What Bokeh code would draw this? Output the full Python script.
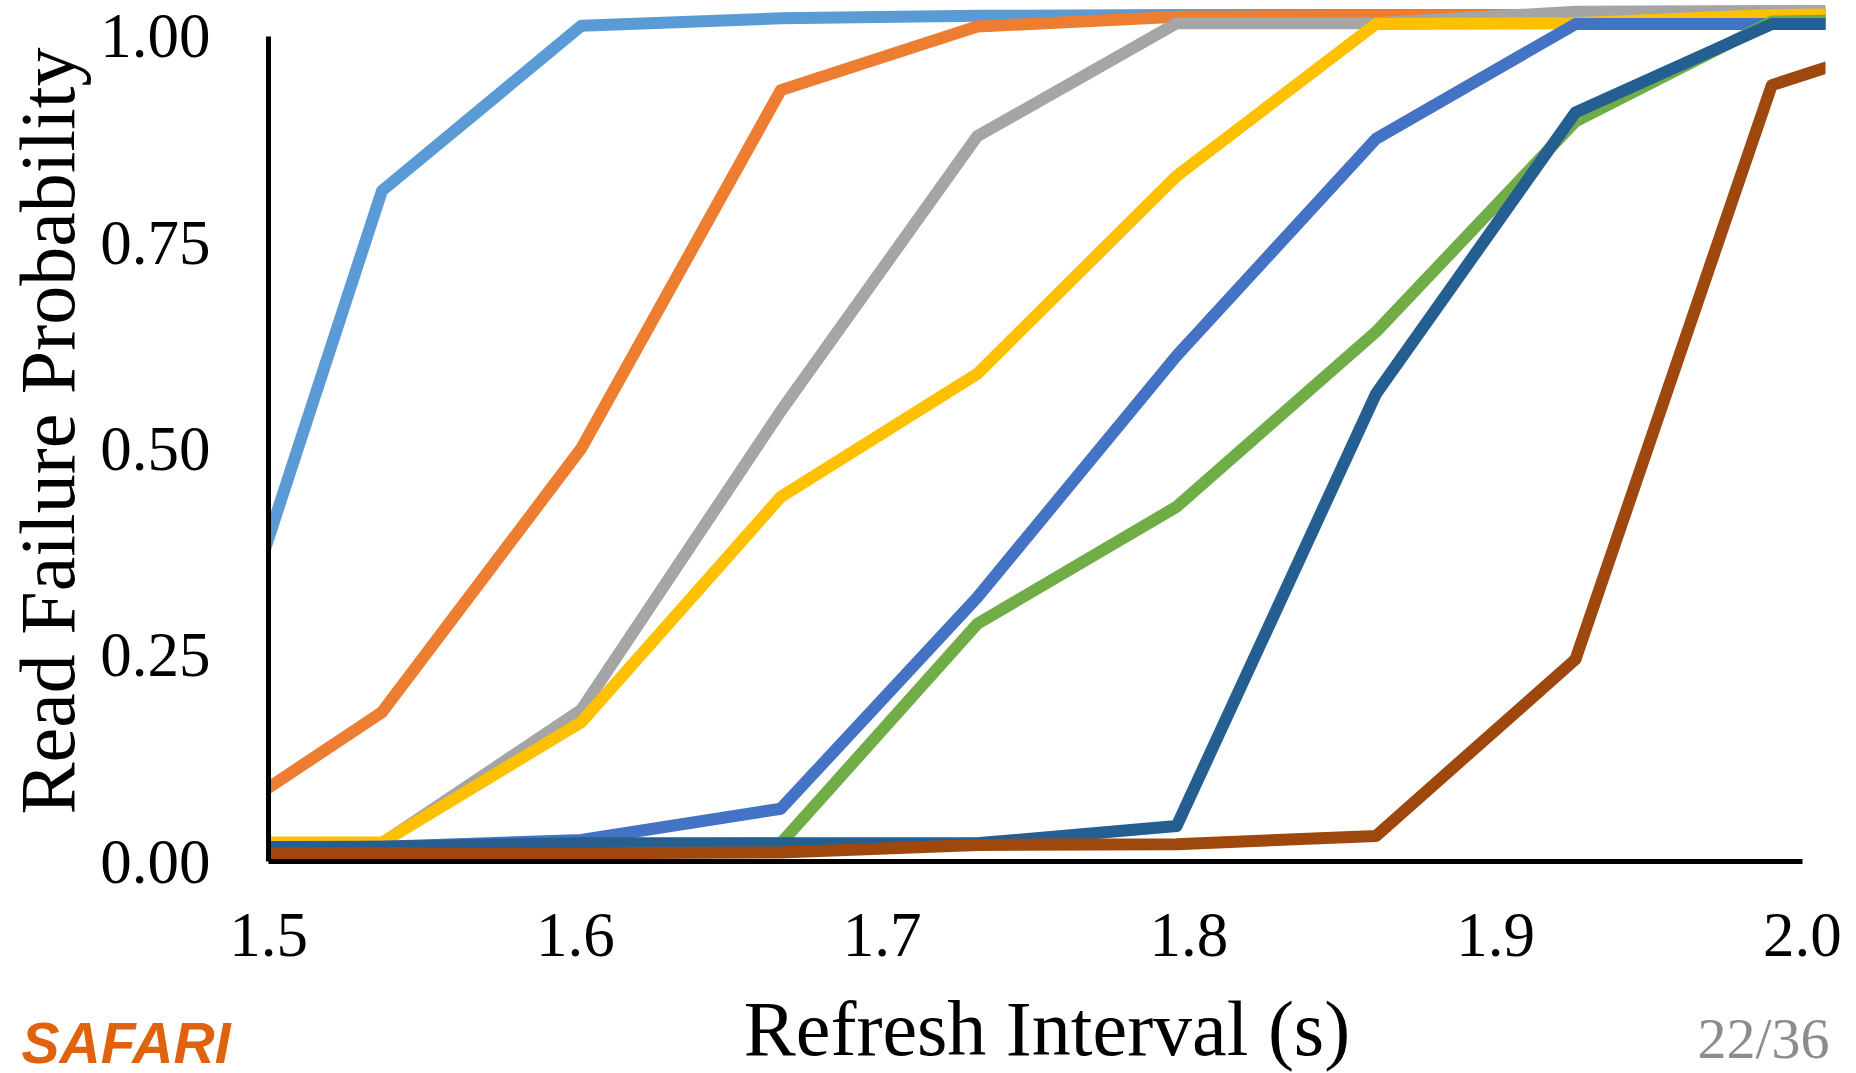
from bokeh.plotting import figure
from bokeh.models import Range1d, FixedTicker, Label, GridBox
from bokeh.embed import file_html
from bokeh.resources import INLINE

# Refresh interval (s) of each measured point
refresh_interval = [1.472, 1.537, 1.602, 1.667, 1.731, 1.796, 1.861, 1.926, 1.990, 2.055]

# Read failure probability for each series
s1 = [0.073, 0.813, 1.013, 1.022, 1.025, 1.026, 1.026, 1.026, 1.026, 1.026]
s2 = [0.020, 0.181, 0.501, 0.935, 1.012, 1.024, 1.025, 1.026, 1.026, 1.026]
s3 = [0.020, 0.022, 0.184, 0.546, 0.879, 1.016, 1.016, 1.030, 1.031, 1.031]
s4 = [0.023, 0.023, 0.169, 0.442, 0.591, 0.831, 1.015, 1.016, 1.026, 1.028]
s5 = [0.015, 0.018, 0.026, 0.064, 0.320, 0.613, 0.876, 1.015, 1.015, 1.015]
s6 = [0.012, 0.015, 0.020, 0.022, 0.288, 0.430, 0.642, 0.897, 1.018, 1.022]
s7 = [0.017, 0.018, 0.022, 0.022, 0.022, 0.043, 0.567, 0.908, 1.015, 1.015]
s8 = [0.010, 0.010, 0.010, 0.011, 0.020, 0.021, 0.031, 0.245, 0.941, 1.019]

series = [s1, s2, s3, s4, s5, s6, s7, s8]
colors = ["#5B9BD5", "#ED7D31", "#A5A5A5", "#FFC000",
          "#4472C4", "#70AD47", "#255E91", "#9E480E"]

x_ticks = [1.5, 1.6, 1.7, 1.8, 1.9, 2.0]
x_tick_labels = ["1.5", "1.6", "1.7", "1.8", "1.9", "2.0"]
y_ticks = [0.0, 0.25, 0.5, 0.75, 1.0]
y_tick_labels = ["0.00", "0.25", "0.50", "0.75", "1.00"]

x_title = "Refresh Interval (s)"
y_title = "Read Failure Probability"
footer_left = "SAFARI"
footer_right = "22/36"

SERIF = "Liberation Serif"
W, H = 1856, 1073

p = figure(frame_width=1557, frame_height=861,
           x_range=Range1d(1.5, 2.0075), y_range=Range1d(0.0, 1.0436),
           output_backend="svg", toolbar_location=None,
           min_border_left=268, min_border_right=31,
           min_border_top=0, min_border_bottom=212)
p.outline_line_color = None
p.background_fill_color = "white"
p.border_fill_color = "white"
p.xgrid.visible = False
p.ygrid.visible = False

for ys, c in zip(series, colors):
    p.line(refresh_interval, ys, line_color=c, line_width=12, line_join="round")

# axes
xa = p.xaxis[0]
xa.ticker = FixedTicker(ticks=x_ticks)
xa.major_label_overrides = dict(zip(x_ticks, x_tick_labels))
xa.bounds = (x_ticks[0], x_ticks[-1])
ya = p.yaxis[0]
ya.ticker = FixedTicker(ticks=y_ticks)
ya.major_label_overrides = dict(zip(y_ticks, y_tick_labels))
ya.bounds = (y_ticks[0], y_ticks[-1])

for ax in (xa, ya):
    ax.axis_line_color = "black"
    ax.axis_line_width = 5
    ax.major_tick_line_color = None
    ax.minor_tick_line_color = None
    ax.major_tick_out = 0
    ax.major_tick_in = 0
    ax.major_label_text_font = SERIF
    ax.major_label_text_font_size = "63px"
    ax.major_label_text_color = "black"
    ax.axis_label_text_font = SERIF
    ax.axis_label_text_font_size = "78px"
    ax.axis_label_text_font_style = "normal"
    ax.axis_label_text_color = "black"

xa.axis_label = x_title
ya.axis_label = y_title
xa.major_label_standoff = 52
ya.major_label_standoff = 58
xa.axis_label_standoff = 26
ya.axis_label_standoff = 6

# transparent overlay page layer for the slide footer texts
foot = figure(width=W, height=H, x_range=Range1d(0, W), y_range=Range1d(0, H),
              x_axis_type=None, y_axis_type=None,
              output_backend="svg", toolbar_location=None, min_border=0)
foot.frame_align = False
foot.grid.visible = False
foot.outline_line_color = None
foot.background_fill_color = None
foot.border_fill_color = None
foot.add_layout(Label(x=21, y=H - 1042, x_units="screen", y_units="screen",
                      text=footer_left, text_font="Liberation Sans",
                      text_font_style="bold italic", text_font_size="57px",
                      text_color="#E0620E", text_align="left",
                      text_baseline="middle"))
foot.add_layout(Label(x=1829, y=H - 1038, x_units="screen", y_units="screen",
                      text=footer_right, text_font=SERIF,
                      text_font_size="58px", text_color="#8C8C8C",
                      text_align="right", text_baseline="middle"))

layout = GridBox(children=[(p, 0, 0), (foot, 0, 0)])

open("out.html", "w").write(file_html(layout, INLINE))
